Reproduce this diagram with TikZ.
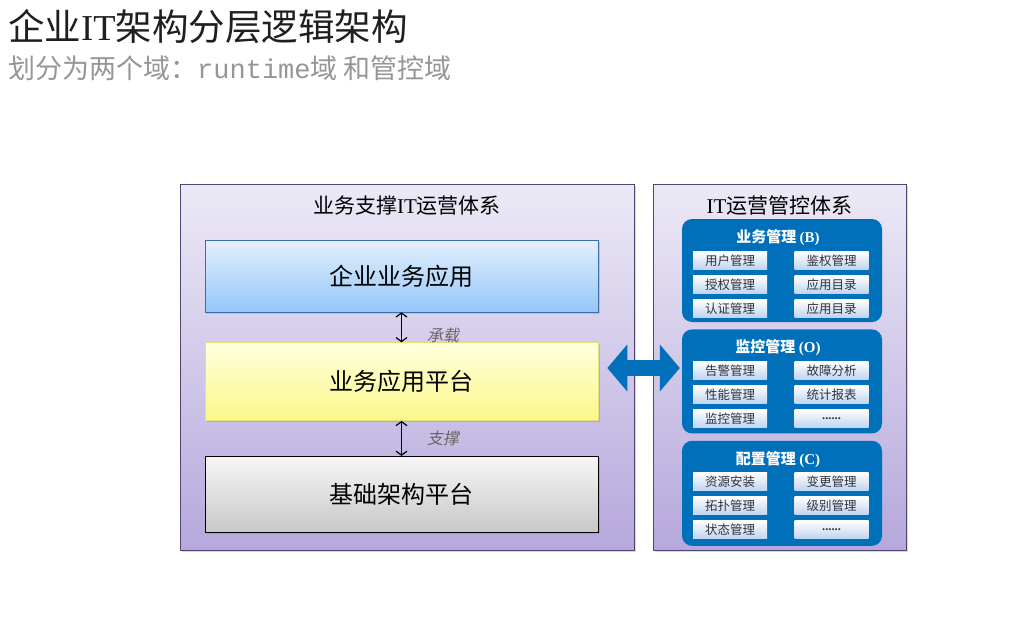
\documentclass[tikz,border=0pt]{standalone}
\usepackage{fontspec}
\setmainfont{Noto Sans CJK SC}
\newfontfamily\latinfont{Liberation Serif}
\newfontfamily\slantcjk[FakeSlant=0.2]{Noto Sans CJK SC}
\setmonofont{Liberation Mono}
\usetikzlibrary{positioning, arrows.meta, shadows}
\definecolor{opsBlue}{RGB}{0,112,186}
\definecolor{panelTop}{RGB}{236,233,246}
\definecolor{panelBot}{RGB}{182,168,220}
\definecolor{panelLine}{RGB}{80,70,110}
\definecolor{subGray}{RGB}{150,150,150}
\definecolor{itemBlue}{RGB}{190,212,240}
\definecolor{itemText}{RGB}{50,50,60}

\begin{document}
\begin{tikzpicture}[x=1pt, y=1pt,
    panel/.style={draw=panelLine, semithick, top color=panelTop, bottom color=panelBot,
                  minimum height=366pt, inner sep=0pt,
                  drop shadow={shadow xshift=1.5pt, shadow yshift=-1.5pt, opacity=0.3}},
    ptitle/.style={font=\fontsize{21}{24}\selectfont, inner sep=0pt},
    layer/.style={semithick, minimum width=393pt, inner sep=0pt,
                  font=\fontsize{24}{28}\selectfont,
                  drop shadow={shadow xshift=1.5pt, shadow yshift=-1.5pt, opacity=0.3}},
    group/.style={fill=opsBlue, rounded corners=10pt, minimum width=200pt, inner sep=0pt},
    gtitle/.style={text=white, font=\fontsize{15}{18}\selectfont\bfseries, inner sep=0pt},
    item/.style={top color=white, bottom color=itemBlue, minimum width=74pt, minimum height=18pt,
                 inner sep=0pt, text=itemText, font=\fontsize{12.5}{14}\selectfont},
    lnk/.style={{Straight Barb[length=4pt, width=11pt]}-{Straight Barb[length=4pt, width=11pt]}, line width=1.2pt},
    lnklabel/.style={text=black!60, font=\fontsize{16}{18}\selectfont\slantcjk, anchor=west, inner sep=0pt},
    bigarr/.style={line width=16pt, opsBlue, {Triangle[length=20pt, width=46pt]}-{Triangle[length=20pt, width=46pt]}},
  ]
  \fill[white] (0,0) rectangle (1027,-624);
  \useasboundingbox (0,0) rectangle (1027,-624);

  % heading
  \node[anchor=west, inner sep=0pt, text=black!88, font=\fontsize{36.5}{40}\selectfont] (head) at (8,-27)
    {企业{\latinfont IT}架构分层逻辑架构};
  \node[anchor=west, inner sep=0pt, text=subGray, font=\fontsize{27}{30}\selectfont] (subhead) at (8,-68)
    {划分为两个域：{\ttfamily runtime}域\ 和管控域};

  % left: business support
  \node[panel, minimum width=454pt] (bss) at (407,-367) {};
  \node[ptitle] (bssT) at (407,-206) {业务支撑{\latinfont IT}运营体系};
  \node[layer, draw={rgb,255:red,60;green,110;blue,170}, top color={rgb,255:red,228;green,240;blue,253},
        bottom color={rgb,255:red,148;green,198;blue,250}, minimum height=72pt] (app) at (401.5,-276) {企业业务应用};
  \node[layer, draw={rgb,255:red,225;green,225;blue,130}, top color={rgb,255:red,255;green,255;blue,222},
        bottom color={rgb,255:red,250;green,248;blue,135}, minimum height=78pt, below=30pt of app] (plat) {业务应用平台};
  \node[layer, draw=black, top color=black!3, bottom color=black!22, minimum height=76pt, below=35pt of plat] (base) {基础架构平台};
  \draw[lnk] (app.south) -- node[lnklabel, pos=0.77, xshift=25pt] (carryT) {承载} (plat.north);
  \draw[lnk] (plat.south) -- node[lnklabel, pos=0.5, xshift=25pt] (supT) {支撑} (base.north);

  % right: IT operations control
  \node[panel, minimum width=253pt] (ops) at (779.5,-367) {};
  \node[ptitle] (opsT) at (779.5,-206) {{\latinfont IT}运营管控体系};
  \node[group, minimum height=103pt] (g1) at (782,-270.5) {};
  \node[group, minimum height=104pt, below=7pt of g1] (g2) {};
  \node[group, minimum height=105pt, below=7pt of g2] (g3) {};

  \node[gtitle] (g1t) at (778,-238) {业务管理\ {\latinfont (B)}};
  \node[item] (b1) at (730,-260.5) {用户管理};
  \node[item] (b2) at (831.5,-260.5) {鉴权管理};
  \node[item] (b3) at (730,-284.5) {授权管理};
  \node[item] (b4) at (831.5,-284.5) {应用目录};
  \node[item] (b5) at (730,-308.5) {认证管理};
  \node[item] (b6) at (831.5,-308.5) {应用目录};

  \node[gtitle] (g2t) at (778,-348) {监控管理\ {\latinfont (O)}};
  \node[item] (o1) at (730,-370.5) {告警管理};
  \node[item] (o2) at (831.5,-370.5) {故障分析};
  \node[item] (o3) at (730,-394.5) {性能管理};
  \node[item] (o4) at (831.5,-394.5) {统计报表};
  \node[item] (o5) at (730,-418.5) {监控管理};
  \node[item] (o6) at (831.5,-418.5) {\latinfont\bfseries ......};

  \node[gtitle] (g3t) at (778,-460) {配置管理\ {\latinfont (C)}};
  \node[item] (c1) at (730,-481.5) {资源安装};
  \node[item] (c2) at (831.5,-481.5) {变更管理};
  \node[item] (c3) at (730,-505.5) {拓扑管理};
  \node[item] (c4) at (831.5,-505.5) {级别管理};
  \node[item] (c5) at (730,-529.5) {状态管理};
  \node[item] (c6) at (831.5,-529.5) {\latinfont\bfseries ......};

  % link between the two domains
  \coordinate (mid) at (0,-368);
  \draw[bigarr, shorten <=9pt, shorten >=2pt] (plat.east |- mid) -- (g2.west |- mid);
\end{tikzpicture}
\end{document}
